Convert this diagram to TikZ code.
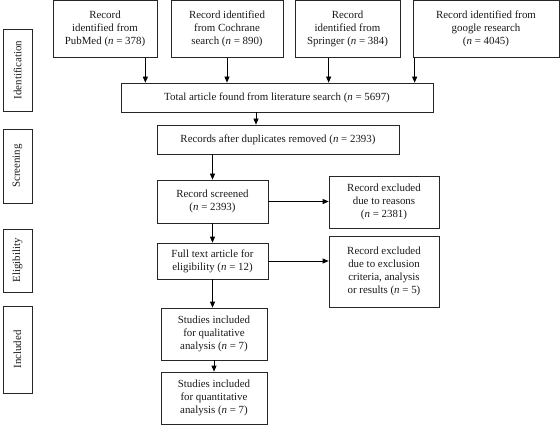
\documentclass[tikz,border=0pt]{standalone}
\usepackage{fontspec}
\setmainfont{Liberation Serif}
\usetikzlibrary{positioning,arrows.meta}
\newcommand{\nn}{\textit{n}}

\begin{document}
\begin{tikzpicture}[
  x=1pt, y=-1pt,
  font=\fontsize{10.9}{13}\selectfont,
  >={Triangle[length=6pt,width=5pt]},
  line width=0.7pt,
  box/.style={draw=black!85, align=center, inner sep=1pt, text=black!90},
  side/.style={draw=black!85, rotate=90, minimum height=29pt, inner sep=1pt, text=black!90}
]
  \useasboundingbox (0,0) rectangle (560,425);

  % Phases
  \node[side, minimum width=82pt] (ident)  at (17.5,70)    {Identification};
  \node[side, minimum width=74pt] (screen) at (17.5,166)   {Screening};
  \node[side, minimum width=63pt] (elig)   at (17.5,260.5) {Eligibility};
  \node[side, minimum width=87pt] (incl)   at (17.5,349.5) {Included};

  % Sources
  \node[box, minimum width=104pt, minimum height=57pt] (pubmed)   at (105,29)    {Record\\identified from\\PubMed (\nn{} = 378)};
  \node[box, minimum width=112pt, minimum height=57pt] (cochrane) at (227,29)    {Record identified\\from Cochrane\\search (\nn{} = 890)};
  \node[box, minimum width=105pt, minimum height=57pt] (springer) at (347.5,29)  {Record\\identified from\\Springer (\nn{} = 384)};
  \node[box, minimum width=146pt, minimum height=57pt] (google)   at (486,29)    {Record identified from\\google research\\(\nn{} = 4045)};

  % Main flow
  \node[box, minimum width=312pt, minimum height=29pt] (total)    at (277,97.5)  {Total article found from literature search (\nn{} = 5697)};
  \node[box, minimum width=242pt, minimum height=29pt] (dup)      at (278,139.5) {Records after duplicates removed (\nn{} = 2393)};
  \node[box, minimum width=111pt, minimum height=43pt] (screened) at (212.5,201.5) {Record screened\\(\nn{} = 2393)};
  \node[box, minimum width=111pt, minimum height=36pt] (full)     at (212.5,261) {Full text article for\\eligibility (\nn{} = 12)};
  \node[box, minimum width=106pt, minimum height=52pt] (qual)     at (214,334)   {Studies included\\for qualitative\\analysis (\nn{} = 7)};
  \node[box, minimum width=106pt, minimum height=52pt] (quant)    at (214,398)   {Studies included\\for quantitative\\analysis (\nn{} = 7)};

  % Exclusions
  \node[box, minimum width=110pt, minimum height=52pt] (excl1) at (384,202)   {Record excluded\\due to reasons\\(\nn{} = 2381)};
  \node[box, minimum width=110pt, minimum height=71pt] (excl2) at (384,271.5) {Record excluded\\due to exclusion\\criteria, analysis\\or results (\nn{} = 5)};

  % Arrows
  \draw[->] ([xshift=-12pt]pubmed.south east) -- ([xshift=-12pt]pubmed.south east |- total.north);
  \draw[->] (cochrane.south) -- (cochrane.south |- total.north);
  \draw[->] ([xshift=34pt]springer.south west) -- ([xshift=34pt]springer.south west |- total.north);
  \draw[->] ([xshift=2pt]google.south west) -- ([xshift=2pt]google.south west |- total.north);
  \draw[->] ([xshift=-21pt]total.south) -- ([xshift=-21pt]total.south |- dup.north);
  \draw[->] (dup.south -| screened.north) -- (screened.north);
  \draw[->] (screened.east) -- (screened.east -| excl1.west);
  \draw[->] (screened) -- (full);
  \draw[->] (full.east) -- (full.east -| excl2.west);
  \draw[->] (full.south) -- (full.south |- qual.north);
  \draw[->] (qual) -- (quant);
\end{tikzpicture}
\end{document}
